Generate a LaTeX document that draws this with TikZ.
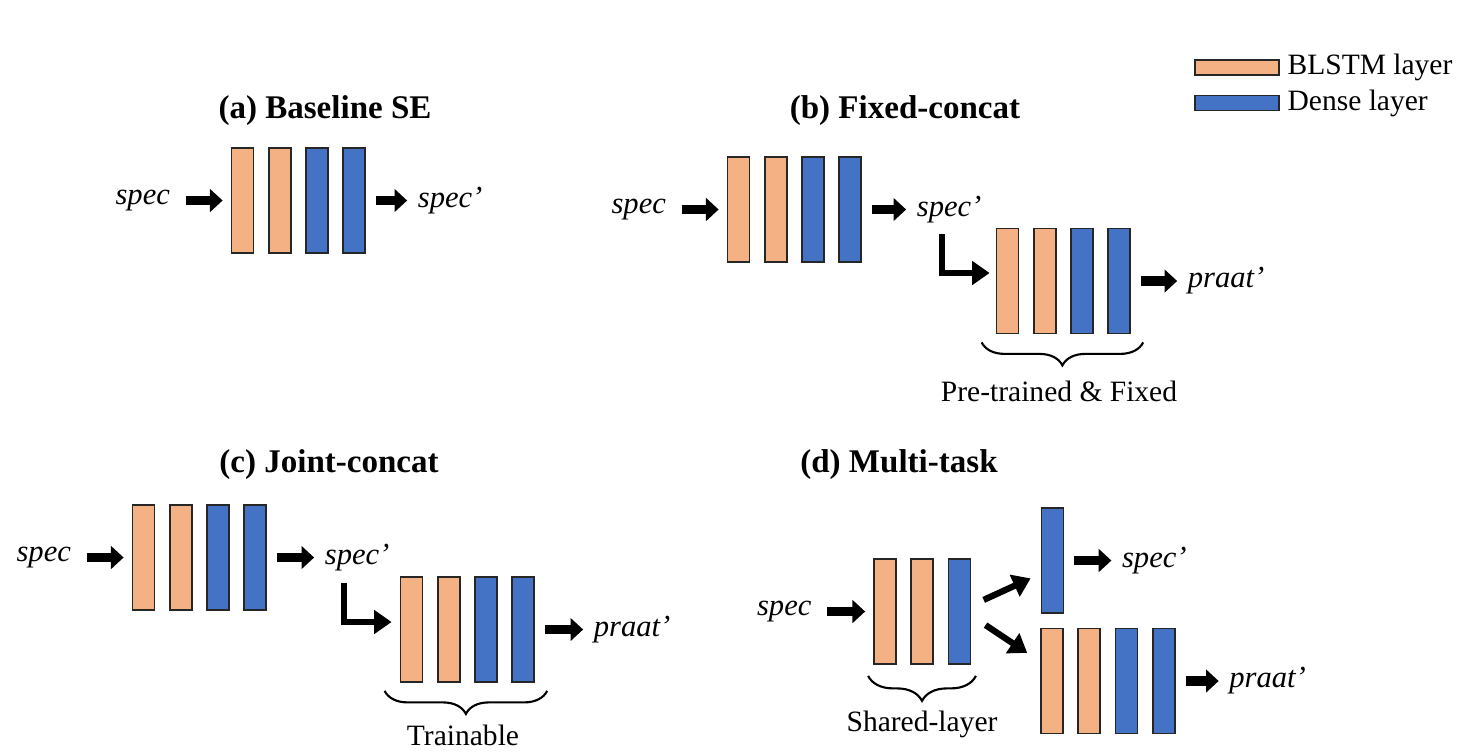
\documentclass[tikz,border=0pt]{standalone}
\usepackage{fontspec}
\setmainfont{Liberation Serif}
\usetikzlibrary{arrows.meta, positioning, calc, decorations.pathreplacing}
\definecolor{blstmorange}{RGB}{244, 177, 131}
\definecolor{denseblue}{RGB}{68, 114, 196}

\tikzset{
  layer/.style={draw=black!85, line width=0.5pt, minimum width=0.22cm, minimum height=1.05cm, inner sep=0pt},
  blstm/.style={layer, fill=blstmorange},
  dense/.style={layer, fill=denseblue},
  title/.style={font=\fontsize{9.4}{11}\selectfont\bfseries},
  sig/.style={font=\fontsize{8.7}{10}\selectfont\itshape, inner sep=0.02cm},
  note/.style={font=\fontsize{8.4}{10}\selectfont, inner sep=0.02cm},
  fat/.style={line width=2.6pt, shorten <=0.1cm, shorten >=0.08cm, -{Triangle[length=3.6pt, width=6.4pt]}},
  elbowarrow/.style={line width=1.8pt, -{Triangle[length=5pt, width=6.6pt]}},
  brc/.style={decorate, decoration={brace, amplitude=0.23cm, mirror}, line width=0.6pt},
}

\begin{document}
\begin{tikzpicture}
  \useasboundingbox (0,0) rectangle (14.7,7.52);

  % legend
  \node[blstm, minimum width=0.84cm, minimum height=0.15cm] (legBlstm) at (12.37,6.845) {};
  \node[note, right=0.05cm of legBlstm] (legBlstmTxt) {BLSTM layer};
  \node[dense, minimum width=0.84cm, minimum height=0.15cm] (legDense) at (12.37,6.49) {};
  \node[note, right=0.05cm of legDense] (legDenseTxt) {Dense layer};

  % (a) baseline
  \node[title] (titleA) at (3.25,6.41) {(a) Baseline SE};
  \node[blstm] (a1) at (2.425,5.515) {};
  \node[blstm, right=0.135cm of a1] (a2) {};
  \node[dense, right=0.135cm of a2] (a3) {};
  \node[dense, right=0.135cm of a3] (a4) {};
  \node[sig, left=0.58cm of a1] (specA) {spec};
  \node[sig, right=0.49cm of a4] (specA') {spec'};
  \draw[fat, shorten <=0.13cm] (specA) -- (a1);
  \draw[fat] (a4) -- (specA');

  % (b) fixed-concat
  \node[title] (titleB) at (9.05,6.41) {(b) Fixed-concat};
  \node[blstm] (b1) at (7.385,5.425) {};
  \node[blstm, right=0.135cm of b1] (b2) {};
  \node[dense, right=0.135cm of b2] (b3) {};
  \node[dense, right=0.135cm of b3] (b4) {};
  \node[sig, left=0.58cm of b1] (specB) {spec};
  \node[sig, right=0.52cm of b4] (specB') {spec'};
  \draw[fat, shorten <=0.13cm] (specB) -- (b1);
  \draw[fat] (b4) -- (specB');

  \node[blstm] (bp1) at (10.075,4.71) {};
  \node[blstm, right=0.135cm of bp1] (bp2) {};
  \node[dense, right=0.135cm of bp2] (bp3) {};
  \node[dense, right=0.135cm of bp3] (bp4) {};
  \node[sig, right=0.54cm of bp4] (praatB) {praat'};
  \draw[fat] (bp4) -- (praatB);
  \coordinate (bendB) at (9.42,5.18);
  \draw[elbowarrow, shorten >=0.06cm] (bendB) |- ([yshift=0.08cm]bp1.west);
  \draw[brc] ([xshift=-0.14cm, yshift=-0.08cm]bp1.south west) -- ([xshift=0.12cm, yshift=-0.08cm]bp4.south east);
  \node[note] (fixedB) at (10.59,3.61) {Pre-trained \& Fixed};

  % (c) joint-concat
  \node[title] (titleC) at (3.29,2.87) {(c) Joint-concat};
  \node[blstm] (c1) at (1.435,1.945) {};
  \node[blstm, right=0.135cm of c1] (c2) {};
  \node[dense, right=0.135cm of c2] (c3) {};
  \node[dense, right=0.135cm of c3] (c4) {};
  \node[sig, left=0.58cm of c1] (specC) {spec};
  \node[sig, right=0.55cm of c4] (specC') {spec'};
  \draw[fat, shorten <=0.13cm] (specC) -- (c1);
  \draw[fat] (c4) -- (specC');

  \node[blstm] (cp1) at (4.115,1.225) {};
  \node[blstm, right=0.135cm of cp1] (cp2) {};
  \node[dense, right=0.135cm of cp2] (cp3) {};
  \node[dense, right=0.135cm of cp3] (cp4) {};
  \node[sig, right=0.56cm of cp4] (praatC) {praat'};
  \draw[fat] (cp4) -- (praatC);
  \coordinate (bendC) at (3.44,1.69);
  \draw[elbowarrow, shorten >=0.08cm] (bendC) |- ([yshift=0.075cm]cp1.west);
  \draw[brc] ([xshift=-0.15cm, yshift=-0.08cm]cp1.south west) -- ([xshift=0.12cm, yshift=-0.08cm]cp4.south east);
  \node[note] (trainC) at (4.63,0.17) {Trainable};

  % (d) multi-task
  \node[title] (titleD) at (8.99,2.87) {(d) Multi-task};
  \node[blstm] (d1) at (8.85,1.405) {};
  \node[blstm, right=0.135cm of d1] (d2) {};
  \node[dense, right=0.135cm of d2] (d3) {};
  \node[sig, left=0.59cm of d1] (specD) {spec};
  \draw[fat, shorten <=0.13cm] (specD) -- (d1);
  \draw[brc, decoration={amplitude=0.25cm}] ([xshift=-0.05cm, yshift=-0.11cm]d1.south west) -- ([xshift=0.045cm, yshift=-0.11cm]d3.south east);
  \node[note] (sharedD) at (9.22,0.28) {Shared-layer};

  \node[dense] (ds1) at (10.525,1.915) {};
  \node[sig, right=0.55cm of ds1] (specD') {spec'};
  \draw[fat] (ds1) -- (specD');

  \node[blstm] (dp1) at (10.52,0.71) {};
  \node[blstm, right=0.135cm of dp1] (dp2) {};
  \node[dense, right=0.135cm of dp2] (dp3) {};
  \node[dense, right=0.135cm of dp3] (dp4) {};
  \node[sig, right=0.51cm of dp4] (praatD) {praat'};
  \draw[fat] (dp4) -- (praatD);

  \draw[elbowarrow, shorten <=0.135cm, shorten >=0.11cm] ([yshift=0.06cm]d3.east) -- ([yshift=-0.133cm]ds1.west);
  \draw[elbowarrow, shorten <=0.17cm, shorten >=0.155cm] ([yshift=-0.042cm]d3.east) -- ([yshift=0.195cm]dp1.west);
\end{tikzpicture}
\end{document}
